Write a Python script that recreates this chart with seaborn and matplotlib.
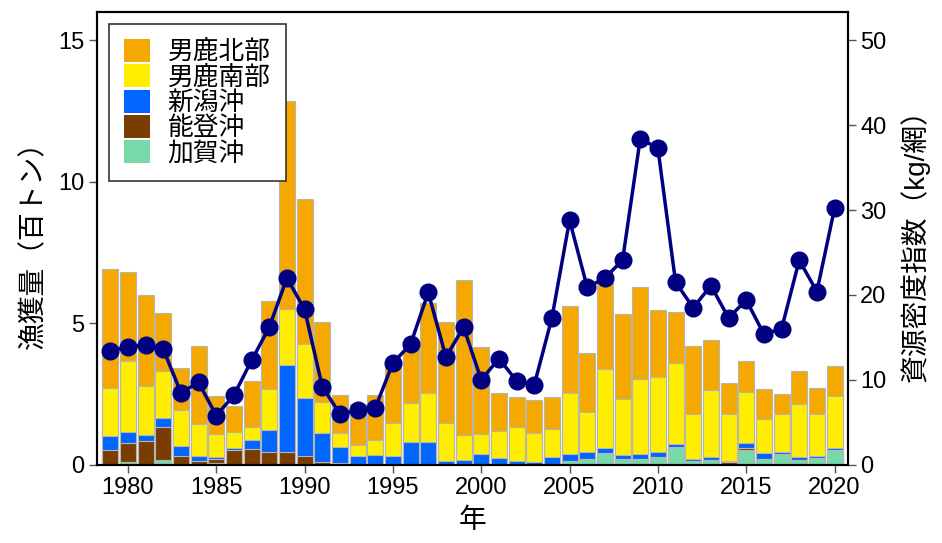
import numpy as np
import pandas as pd
import matplotlib
matplotlib.use("Agg")
import matplotlib.pyplot as plt
from matplotlib.patches import Patch
import seaborn as sns

years = list(range(1979, 2021))
oga_north = [4.22, 3.17, 3.21, 2.04, 1.47, 2.76, 1.36, 0.92, 1.62, 3.12, 7.33, 5.10, 2.84, 1.35,
             1.45, 1.60, 2.06, 1.96, 3.18, 3.57, 5.46, 3.06, 1.33, 1.06, 1.16, 1.12, 3.06, 2.09,
             3.13, 3.00, 3.27, 2.36, 1.83, 2.39, 1.76, 1.07, 1.07, 1.06, 0.68, 1.18, 0.92, 1.06]
oga_south = [1.69, 2.49, 1.75, 1.67, 1.27, 1.12, 0.80, 0.55, 0.47, 1.45, 1.99, 1.93, 1.10, 0.48,
             0.39, 0.52, 1.17, 1.37, 1.74, 1.35, 0.90, 0.72, 0.96, 1.20, 1.02, 0.98, 2.17, 1.40,
             2.79, 1.99, 2.64, 2.64, 2.83, 1.59, 2.36, 1.67, 1.82, 1.21, 1.35, 1.88, 1.47, 1.83]
niigata = [0.50, 0.39, 0.20, 0.29, 0.35, 0.18, 0.08, 0.09, 0.32, 0.78, 3.07, 2.03, 1.02, 0.56,
           0.32, 0.35, 0.32, 0.81, 0.81, 0.14, 0.16, 0.38, 0.24, 0.14, 0.10, 0.28, 0.24, 0.27,
           0.20, 0.15, 0.16, 0.20, 0.11, 0.08, 0.10, 0.04, 0.18, 0.20, 0.08, 0.08, 0.08, 0.06]
noto = [0.52, 0.67, 0.85, 1.18, 0.32, 0.14, 0.15, 0.52, 0.55, 0.44, 0.46, 0.32, 0.10, 0.08,
        0.00, 0.00, 0.00, 0.00, 0.00, 0.00, 0.00, 0.00, 0.00, 0.00, 0.00, 0.00, 0.00, 0.00,
        0.00, 0.00, 0.00, 0.00, 0.00, 0.00, 0.00, 0.10, 0.05, 0.00, 0.00, 0.00, 0.00, 0.00]
kaga = [0.00, 0.10, 0.00, 0.17, 0.00, 0.00, 0.05, 0.00, 0.00, 0.00, 0.00, 0.00, 0.00, 0.00,
        0.00, 0.00, 0.00, 0.00, 0.00, 0.00, 0.00, 0.00, 0.00, 0.00, 0.00, 0.00, 0.14, 0.20,
        0.41, 0.20, 0.22, 0.26, 0.64, 0.12, 0.18, 0.00, 0.53, 0.20, 0.38, 0.18, 0.24, 0.53]
density_index = [13.4, 13.9, 14.1, 13.6, 8.5, 9.7, 5.8, 8.2, 12.3, 16.2, 22.0, 18.3, 9.2, 6.0,
                 6.4, 6.7, 12.0, 14.2, 20.3, 12.7, 16.2, 10.0, 12.5, 9.9, 9.4, 17.3, 28.8, 20.9,
                 22.0, 24.1, 38.4, 37.3, 21.5, 18.5, 21.1, 17.3, 19.4, 15.4, 16.0, 24.1, 20.4, 30.2]

series_names = ["男鹿北部", "男鹿南部", "新潟沖", "能登沖", "加賀沖"]
colors = ["#F5A800", "#FFEE00", "#0066FF", "#7A3D00", "#77D8A8"]
x_ticks = [1980, 1985, 1990, 1995, 2000, 2005, 2010, 2015, 2020]

sns.set_theme(style="ticks")
plt.rcParams["font.family"] = ["Liberation Sans", "Noto Sans CJK JP"]
plt.rcParams["text.color"] = "black"
plt.rcParams["axes.labelcolor"] = "black"
plt.rcParams["xtick.labelcolor"] = "black"
plt.rcParams["ytick.labelcolor"] = "black"

# stack bottom -> top: kaga, noto, niigata, south, north
stack = [kaga, noto, niigata, oga_south, oga_north]
stack_colors = [colors[4], colors[3], colors[2], colors[1], colors[0]]
cum = np.cumsum(np.array(stack), axis=0)

fig = plt.figure(figsize=(9.42, 5.43), dpi=100)
ax = fig.add_axes([0.103, 0.144, 0.797, 0.834])

for i in range(len(stack) - 1, -1, -1):
    df = pd.DataFrame({"year": years, "value": cum[i]})
    sns.barplot(data=df, x="year", y="value", color=stack_colors[i], native_scale=True,
                width=0.9, edgecolor="#b5b5b5", linewidth=0.8, saturation=1, ax=ax)

ax.set_xlim(1978.25, 2020.75)
ax.set_ylim(0, 16)
ax.set_xticks(x_ticks)
ax.set_xticklabels([str(t) for t in x_ticks])
ax.set_yticks([0, 5, 10, 15])
ax.set_xlabel("年", fontsize=20, labelpad=6)
ax.set_ylabel("漁獲量（百トン）", fontsize=20, labelpad=8)

ax2 = ax.twinx()
ldf = pd.DataFrame({"year": years, "idx": density_index})
sns.lineplot(data=ldf, x="year", y="idx", ax=ax2, color="#000080", linewidth=2.5,
             marker="o", markersize=12, markeredgecolor="#000080", markeredgewidth=1)
ax2.set_ylim(0, 16 * 10 / 3)
ax2.set_yticks([0, 10, 20, 30, 40, 50])
ax2.set_xlim(1978.25, 2020.75)
ax2.set_ylabel("資源密度指数（kg/網）", fontsize=20, rotation=90, labelpad=10)
ax2.set_xlabel("")

for a in (ax, ax2):
    for s in a.spines.values():
        s.set_visible(True)
        s.set_color("black")
        s.set_linewidth(1.5)
    a.tick_params(axis="both", labelsize=17, length=6, width=1, color="#555555",
                  direction="out", pad=3, labelcolor="black")

handles = [Patch(facecolor=c, edgecolor="none") for c in colors]
leg = ax.legend(handles, series_names, loc="upper left", fontsize=18.5,
                frameon=True, fancybox=False, framealpha=1, edgecolor="#333333",
                handlelength=1.0, handleheight=1.0, labelspacing=0.0,
                handletextpad=0.7, borderpad=0.6, borderaxespad=0.45)
leg.get_frame().set_linewidth(1.2)

fig.savefig("out.png", dpi=100)
